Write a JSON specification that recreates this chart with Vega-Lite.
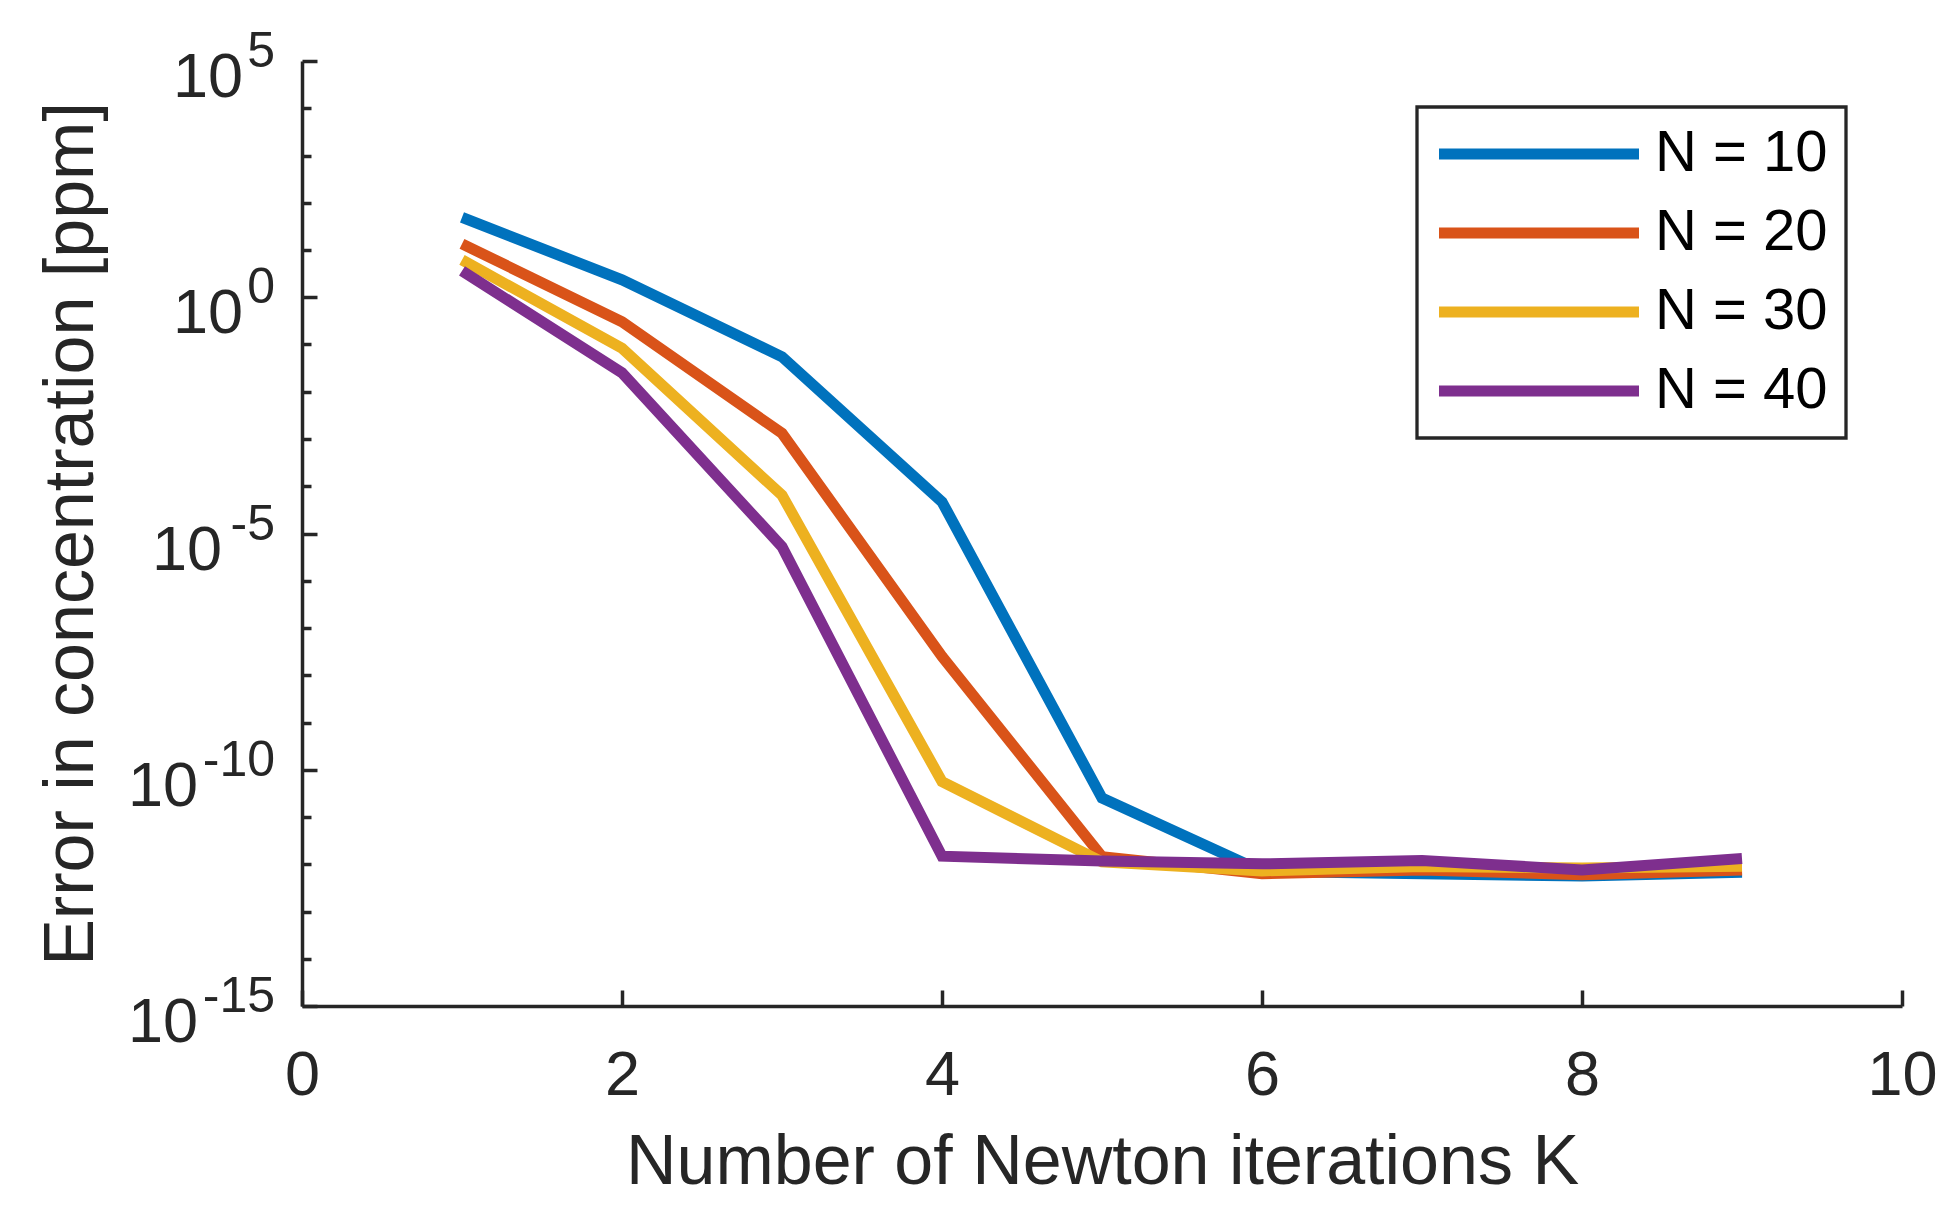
{
  "$schema": "https://vega.github.io/schema/vega-lite/v6.json",
  "width": 1600,
  "height": 945,
  "autosize": {"type": "none"},
  "padding": {"left": 302, "top": 61, "right": 47, "bottom": 200},
  "background": "white",
  "config": {
    "view": {"stroke": null},
    "font": "Liberation Sans",
    "legend": {"strokeWidth": 3.3}
  },
  "datasets": {
    "lines": [
      {"K": 1, "err": 49.0, "series": "N = 10"},
      {"K": 2, "err": 2.34, "series": "N = 10"},
      {"K": 3, "err": 0.055, "series": "N = 10"},
      {"K": 4, "err": 4.68e-5, "series": "N = 10"},
      {"K": 5, "err": 2.51e-11, "series": "N = 10"},
      {"K": 6, "err": 7.08e-13, "series": "N = 10"},
      {"K": 7, "err": 6.31e-13, "series": "N = 10"},
      {"K": 8, "err": 5.62e-13, "series": "N = 10"},
      {"K": 9, "err": 6.76e-13, "series": "N = 10"},
      {"K": 1, "err": 13.5, "series": "N = 20"},
      {"K": 2, "err": 0.302, "series": "N = 20"},
      {"K": 3, "err": 1.32e-3, "series": "N = 20"},
      {"K": 4, "err": 2.51e-8, "series": "N = 20"},
      {"K": 5, "err": 1.45e-12, "series": "N = 20"},
      {"K": 6, "err": 6.31e-13, "series": "N = 20"},
      {"K": 7, "err": 7.59e-13, "series": "N = 20"},
      {"K": 8, "err": 6.03e-13, "series": "N = 20"},
      {"K": 9, "err": 7.59e-13, "series": "N = 20"},
      {"K": 1, "err": 6.17, "series": "N = 30"},
      {"K": 2, "err": 0.0832, "series": "N = 30"},
      {"K": 3, "err": 6.46e-5, "series": "N = 30"},
      {"K": 4, "err": 5.62e-11, "series": "N = 30"},
      {"K": 5, "err": 1.12e-12, "series": "N = 30"},
      {"K": 6, "err": 7.24e-13, "series": "N = 30"},
      {"K": 7, "err": 8.91e-13, "series": "N = 30"},
      {"K": 8, "err": 8.32e-13, "series": "N = 30"},
      {"K": 9, "err": 9.12e-13, "series": "N = 30"},
      {"K": 1, "err": 3.63, "series": "N = 40"},
      {"K": 2, "err": 0.0251, "series": "N = 40"},
      {"K": 3, "err": 5.25e-6, "series": "N = 40"},
      {"K": 4, "err": 1.48e-12, "series": "N = 40"},
      {"K": 5, "err": 1.17e-12, "series": "N = 40"},
      {"K": 6, "err": 1.02e-12, "series": "N = 40"},
      {"K": 7, "err": 1.20e-12, "series": "N = 40"},
      {"K": 8, "err": 7.59e-13, "series": "N = 40"},
      {"K": 9, "err": 1.32e-12, "series": "N = 40"}
    ],
    "yticks": [
      {"err": 1e5, "e": "5", "n": 1},
      {"err": 1, "e": "0", "n": 1},
      {"err": 1e-5, "e": "-5", "n": 2},
      {"err": 1e-10, "e": "-10", "n": 3},
      {"err": 1e-15, "e": "-15", "n": 3}
    ]
  },
  "layer": [
    {
      "data": {"name": "lines"},
      "mark": {"type": "line", "strokeWidth": 11},
      "encoding": {
        "x": {
          "field": "K", "type": "quantitative",
          "scale": {"domain": [0, 10], "nice": false},
          "axis": {
            "title": "Number of Newton iterations K",
            "values": [0, 2, 4, 6, 8, 10],
            "format": "d",
            "grid": false,
            "tickSize": -16, "tickWidth": 3.5, "tickColor": "#262626",
            "domainWidth": 3.5, "domainColor": "#262626",
            "labelFont": "Liberation Sans", "labelFontSize": 63, "labelColor": "#262626",
            "labelPadding": 54, "labelFlush": false, "labelOverlap": false,
            "titleFont": "Liberation Sans", "titleFontSize": 70, "titleFontWeight": "normal",
            "titleColor": "#262626", "titlePadding": 21
          }
        },
        "y": {
          "field": "err", "type": "quantitative",
          "scale": {"type": "log", "domain": [1e-15, 1e5], "nice": false},
          "axis": {
            "title": "Error in concentration [ppm]",
            "values": [1e5, 1e4, 1000, 100, 10, 1, 0.1, 0.01, 0.001, 1e-4, 1e-5, 1e-6, 1e-7, 1e-8, 1e-9, 1e-10, 1e-11, 1e-12, 1e-13, 1e-14, 1e-15],
            "labels": false,
            "grid": false,
            "tickSize": {"condition": {"test": "round(log(datum.value)/LN10) % 5 == 0", "value": -15}, "value": -9},
            "tickWidth": 3.5, "tickColor": "#262626",
            "domainWidth": 3.5, "domainColor": "#262626",
            "titleFont": "Liberation Sans", "titleFontSize": 70, "titleFontWeight": "normal",
            "titleColor": "#262626", "titlePadding": 193
          }
        },
        "color": {
          "field": "series", "type": "nominal",
          "scale": {"domain": ["N = 10", "N = 20", "N = 30", "N = 40"], "range": ["#0072BD", "#D95319", "#EDB120", "#7E2F8E"]},
          "legend": {
            "title": null, "orient": "none", "legendX": 1115, "legendY": 46,
            "symbolType": "M-10,0H10", "symbolSize": 400, "symbolStrokeWidth": 11,
            "symbolOffset": 75,
            "labelFont": "Liberation Sans", "labelFontSize": 58, "labelColor": "#000000",
            "labelOffset": 87, "labelLimit": 500, "padding": 18, "rowPadding": 21,
            "strokeColor": "#262626", "fillColor": "#ffffff"
          }
        }
      }
    },
    {
      "data": {"name": "yticks"},
      "mark": {"type": "text", "align": "right", "baseline": "alphabetic", "dx": -27, "dy": 6, "fontSize": 50, "font": "Liberation Sans", "color": "#262626"},
      "encoding": {
        "x": {"datum": 0, "type": "quantitative"},
        "y": {"field": "err", "type": "quantitative"},
        "text": {"field": "e"}
      }
    },
    {
      "data": {"name": "yticks"},
      "transform": [{"filter": "datum.n == 1"}],
      "mark": {"type": "text", "align": "right", "baseline": "alphabetic", "dx": -59, "dy": 36, "fontSize": 63, "font": "Liberation Sans", "color": "#262626", "text": "10"},
      "encoding": {
        "x": {"datum": 0, "type": "quantitative"},
        "y": {"field": "err", "type": "quantitative"}
      }
    },
    {
      "data": {"name": "yticks"},
      "transform": [{"filter": "datum.n == 2"}],
      "mark": {"type": "text", "align": "right", "baseline": "alphabetic", "dx": -80, "dy": 36, "fontSize": 63, "font": "Liberation Sans", "color": "#262626", "text": "10"},
      "encoding": {
        "x": {"datum": 0, "type": "quantitative"},
        "y": {"field": "err", "type": "quantitative"}
      }
    },
    {
      "data": {"name": "yticks"},
      "transform": [{"filter": "datum.n == 3"}],
      "mark": {"type": "text", "align": "right", "baseline": "alphabetic", "dx": -104, "dy": 36, "fontSize": 63, "font": "Liberation Sans", "color": "#262626", "text": "10"},
      "encoding": {
        "x": {"datum": 0, "type": "quantitative"},
        "y": {"field": "err", "type": "quantitative"}
      }
    }
  ]
}
